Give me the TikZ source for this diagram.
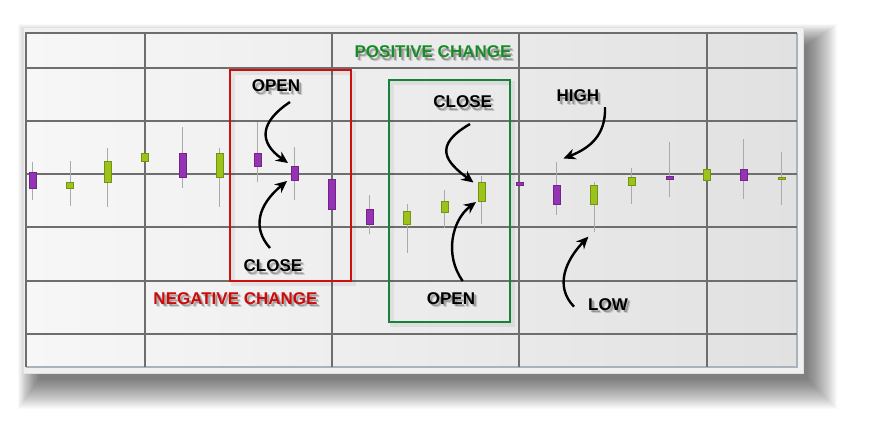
\documentclass[tikz,border=0pt]{standalone}
\usepackage{fontspec}
\setmainfont{Liberation Sans}
\usetikzlibrary{arrows.meta,calc}
\definecolor{gridc}{RGB}{110,110,110}
\definecolor{wickc}{RGB}{170,170,170}
\definecolor{purp}{RGB}{150,50,180}
\definecolor{limec}{RGB}{155,195,25}
\definecolor{posg}{RGB}{25,140,40}
\definecolor{negr}{RGB}{205,10,10}
\definecolor{boxr}{RGB}{205,15,15}
\definecolor{boxg}{RGB}{20,130,55}
\newcommand\mycandle[6]{%
  \draw[wick] (#1,#2) -- (#1,#3);
  \filldraw[#6] (#1-3.6,#4) rectangle (#1+3.6,#5);}
\newcommand\mybody[4]{%
  \filldraw[#4] (#1-3.6,#2) rectangle (#1+3.6,#3);}
\newcommand\shlabel[4]{%
  \node[lbl, text=black, opacity=0.15] at ($(#2)+(3.2,3.8)$) {#4};
  \node[lbl, text=black, opacity=0.25] at ($(#2)+(2,2.5)$) {#4};
  \node[lbl, text=#3] (#1) at (#2) {#4};}
\begin{document}
\begin{tikzpicture}[x=1pt,y=-1pt,
  grid/.style={draw=gridc, line width=1.3pt},
  wick/.style={draw=wickc, line width=1pt},
  pbody/.style={fill=purp, draw=purp!75!black, line width=0.4pt},
  gbody/.style={fill=limec, draw=limec!75!black, line width=0.4pt},
  lbl/.style={font=\fontsize{17}{17}\selectfont\bfseries, inner sep=0pt},
  arr/.style={-{Stealth[length=12pt,width=11pt]}, line width=2.4pt, black},
  chbox/.style={line width=2pt},
  boxsh/.style={draw=black, opacity=0.06, line width=4pt},
]
\useasboundingbox (0,0) rectangle (869,423);
\fill[white] (0,0) rectangle (869,423);
% panel shadow (soft, offset down-right)
\foreach \i in {0,1,...,30} {
  \fill[black, opacity=0.019] (23+16-0.7*\i,27+18-0.7*\i) rectangle (803+4+\i,373+6+\i);
}
% panel frame
\filldraw[fill={rgb,255:red,240;green,240;blue,240}, draw={rgb,255:red,225;green,225;blue,225}] (23,27) rectangle (803,373);
% chart background
\shade[left color={rgb,255:red,247;green,247;blue,247}, right color={rgb,255:red,225;green,225;blue,225}] (26,33) rectangle (797,367);
% right/bottom light border
\draw[draw={rgb,255:red,170;green,178;blue,188}, line width=1.3pt] (797,33) -- (797,367) -- (26,367);
% grid
\foreach \y in {68,121,174,227,281,334} { \draw[grid] (26,\y) -- (797,\y); }
\foreach \x in {145,332,519,707} { \draw[grid] (\x,33) -- (\x,367); }
\draw[grid] (26,367) -- (26,33) -- (797,33);
% box shadows
\draw[boxsh] (233,73) rectangle (354,284);
\draw[boxsh] (392,83) rectangle (513,325);
% candles
\mycandle{32.7}{161.7}{200}{171.7}{187.7}{pbody}
\mycandle{70}{161}{205.7}{182.3}{187.7}{gbody}
\mycandle{107.3}{148.3}{206.7}{161}{182.3}{gbody}
\mybody{145}{153}{161}{gbody}
\mycandle{182.3}{127}{188.3}{153}{177}{pbody}
\mycandle{219.7}{148.3}{206.7}{153}{177}{gbody}
\mycandle{257.3}{121.7}{181.7}{153}{166.3}{pbody}
\mycandle{294.7}{146.7}{200}{166}{179.7}{pbody}
\mybody{332}{179.3}{209}{pbody}
\mycandle{369.3}{195}{234.3}{208.7}{224.3}{pbody}
\mycandle{407}{204.3}{253.3}{211.3}{224.3}{gbody}
\mycandle{444.3}{190}{228.3}{200.7}{211.7}{gbody}
\mycandle{481.7}{176}{224.3}{182.3}{200.7}{gbody}
\mybody{519.3}{182.5}{185.3}{pbody}
\mycandle{556.7}{161.7}{215}{185}{203.7}{pbody}
\mycandle{594}{181.7}{231.7}{185}{203.7}{gbody}
\mycandle{631.7}{168.3}{204.3}{177}{185}{gbody}
\mycandle{669.3}{141.7}{196.7}{176.5}{179.5}{pbody}
\mybody{706.3}{169}{179.7}{gbody}
\mycandle{743.7}{139}{199}{169}{179.7}{pbody}
\mycandle{781.3}{151.7}{205}{177}{179.5}{gbody}
% change boxes
\draw[chbox, draw=boxr] (230,70) rectangle (351,281);
\draw[chbox, draw=boxg] (389,80) rectangle (510,322);
% labels
\shlabel{pos}{433,51.7}{posg}{POSITIVE CHANGE}
\shlabel{neg}{235.5,298.3}{negr}{NEGATIVE CHANGE}
\shlabel{open1}{276,85.7}{black}{OPEN}
\shlabel{close1}{273,265.7}{black}{CLOSE}
\shlabel{close2}{462.7,101.7}{black}{CLOSE}
\shlabel{open2}{451,298.3}{black}{OPEN}
\shlabel{high}{577.8,95.7}{black}{HIGH}
\shlabel{low}{608,304.3}{black}{LOW}
% arrow coordinates
\coordinate (o1s) at (290,102);   \coordinate (o1t) at (288,163);
\coordinate (c1s) at (270,248);   \coordinate (c1t) at (287,181);
\coordinate (c2s) at (470,124);   \coordinate (c2t) at (473.5,182.5);
\coordinate (o2s) at (462.7,281); \coordinate (o2t) at (476,202);
\coordinate (hs) at (605,107);    \coordinate (ht) at (563.5,158.5);
\coordinate (ls) at (574,306.7);  \coordinate (lt) at (588.3,236.7);
\draw[arr] (o1s) .. controls (260,122) and (258,142) .. (o1t);
\draw[arr] (c1s) .. controls (252,228) and (258,205) .. (c1t);
\draw[arr] (c2s) .. controls (432,146) and (446,162) .. (c2t);
\draw[arr] (o2s) .. controls (444,255) and (452,220) .. (o2t);
\draw[arr] (hs) .. controls (606,135) and (590,148) .. (ht);
\draw[arr] (ls) .. controls (554,286) and (566,260) .. (lt);
\end{tikzpicture}
\end{document}
